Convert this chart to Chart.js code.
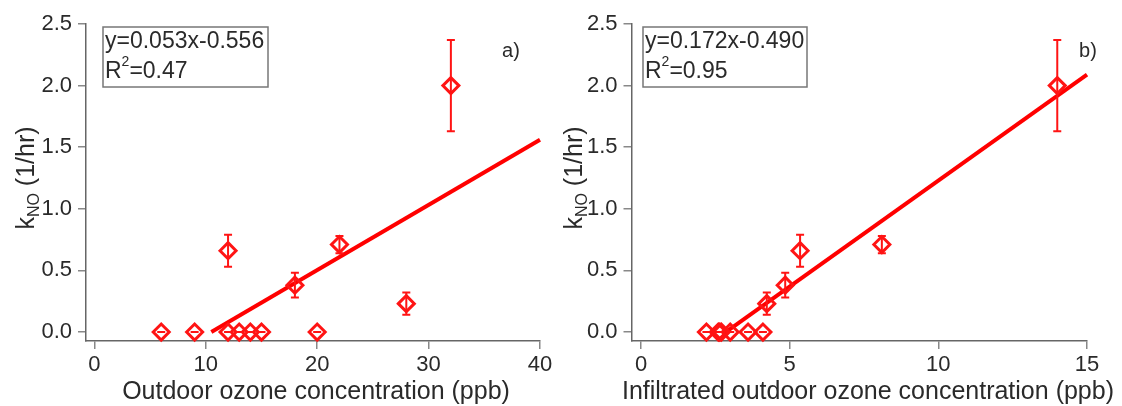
<!DOCTYPE html>
<html>
<head>
<meta charset="utf-8">
<script src="https://cdn.jsdelivr.net/npm/chart.js@4.4.1/dist/chart.umd.min.js"></script>
<style>
  body { margin: 0; background: #fff; width: 1122px; height: 406px; overflow: hidden; position: relative; }
  canvas { position: absolute; top: 0; }
</style>
</head>
<body>
<canvas id="chartA" width="560" height="406" style="left:0"></canvas>
<canvas id="chartB" width="562" height="406" style="left:560px"></canvas>
<script>
// k_NO values (1/hr) and their error bars, shared by both panels
const kNO  = [0, 0, 0, 0, 0, 0, 0, 0.66, 0.38, 0.71, 0.23, 2.0];
const kErr = [0, 0, 0, 0, 0, 0, 0, 0.13, 0.10, 0.07, 0.09, 0.37];

// panel a) outdoor ozone (ppb)
const outdoorX = [6, 9, 12, 13, 14, 15, 20, 12, 18, 22, 28, 32];
// panel b) infiltrated outdoor ozone (ppb)
const infiltratedX = [2.2, 2.6, 2.65, 2.7, 3.0, 3.6, 4.1, 5.35, 4.85, 8.1, 4.23, 14];

// fitted lines, end points
const fitAX = [10.5, 40];
const fitAY = [0, 1.56];
const fitBX = [2.85, 15];
const fitBY = [0, 2.09];

// tick labels
const xTicksA = [0, 10, 20, 30, 40];
const xTicksB = [0, 5, 10, 15];
const yTicks = [0, 0.5, 1.0, 1.5, 2.0, 2.5];

const RED = '#ff1414';
const TEXT = '#2a2a2a';
const FONT = '"Liberation Sans", Arial, Helvetica, sans-serif';

// vertical error bars with caps, drawn through the chart scales
const errorBars = {
  id: 'errorBars',
  afterDatasetsDraw(chart, args, opts) {
    const ctx = chart.ctx, xs = chart.scales.x, ys = chart.scales.y;
    const pts = chart.data.datasets[0].data;
    ctx.save();
    ctx.strokeStyle = RED;
    ctx.lineWidth = 2;
    pts.forEach((p, i) => {
      const e = opts.errors[i];
      const px = xs.getPixelForValue(p.x);
      const top = ys.getPixelForValue(p.y + e);
      const bot = ys.getPixelForValue(p.y - e);
      ctx.beginPath();
      ctx.moveTo(px, top); ctx.lineTo(px, bot);
      ctx.moveTo(px - 4, top); ctx.lineTo(px + 4, top);
      ctx.moveTo(px - 4, bot); ctx.lineTo(px + 4, bot);
      ctx.stroke();
    });
    ctx.restore();
  }
};

// fit box, panel letter, axis titles (y title has a subscript,
// x title of panel b is wider than its axis so chart.js would squeeze it)
const decor = {
  id: 'decor',
  afterDraw(chart, args, opts) {
    const ctx = chart.ctx;
    ctx.save();
    const [bx, by, bw, bh] = opts.box;
    ctx.strokeStyle = '#777';
    ctx.lineWidth = 1.5;
    ctx.strokeRect(bx, by, bw, bh);

    ctx.fillStyle = TEXT;
    ctx.textBaseline = 'alphabetic';
    ctx.textAlign = 'left';
    ctx.font = '23px ' + FONT;
    ctx.fillText(opts.eq, bx + 2, by + 21);
    ctx.fillText('R', bx + 2, by + 51);
    let w = ctx.measureText('R').width;
    ctx.font = '14px ' + FONT;
    ctx.fillText('2', bx + 2 + w, by + 39);
    let w2 = ctx.measureText('2').width;
    ctx.font = '23px ' + FONT;
    ctx.fillText('=' + opts.r2, bx + 2 + w + w2, by + 51);

    ctx.font = '20px ' + FONT;
    ctx.textAlign = 'center';
    ctx.textBaseline = 'middle';
    ctx.fillText(opts.letter, opts.letterPos[0], opts.letterPos[1]);

    // x title
    ctx.textBaseline = 'alphabetic';
    ctx.font = opts.xTitleSize + 'px ' + FONT;
    ctx.fillText(opts.xTitle, opts.xTitlePos[0], opts.xTitlePos[1]);

    // rotated y title: k_NO (1/hr)
    ctx.translate(opts.ytitle[0], opts.ytitle[1]);
    ctx.rotate(-Math.PI / 2);
    ctx.textAlign = 'left';
    ctx.font = '25px ' + FONT;
    const wk = ctx.measureText('k').width;
    const wr = ctx.measureText(' (1/hr)').width;
    ctx.font = '16px ' + FONT;
    const ws = ctx.measureText('NO').width;
    let x0 = -(wk + ws + wr) / 2;
    ctx.font = '25px ' + FONT;
    ctx.fillText('k', x0, 9);
    ctx.font = '16px ' + FONT;
    ctx.fillText('NO', x0 + wk, 14);
    ctx.font = '25px ' + FONT;
    ctx.fillText(' (1/hr)', x0 + wk + ws, 9);
    ctx.restore();
  }
};

function makeChart(id, xs, fitX, fitY, xTicks, xMin, xMax, opt) {
  const points = xs.map((x, i) => ({ x: x, y: kNO[i] }));
  const line = fitX.map((x, i) => ({ x: x, y: fitY[i] }));
  return new Chart(document.getElementById(id), {
    type: 'scatter',
    data: {
      datasets: [
        {
          data: points,
          pointStyle: 'rectRot',
          pointRadius: 8,
          pointBorderWidth: 3,
          pointBorderColor: RED,
          pointBackgroundColor: 'rgba(0,0,0,0)',
          clip: false,
        },
        {
          type: 'line',
          data: line,
          showLine: true,
          borderColor: '#ff0000',
          borderWidth: 4,
          pointRadius: 0,
          clip: false,
        },
      ],
    },
    options: {
      responsive: false,
      animation: false,
      layout: { padding: { left: 0, right: opt.padRight, top: 24, bottom: 0 } },
      plugins: {
        legend: { display: false },
        tooltip: { enabled: false },
        errorBars: { errors: kErr },
        decor: opt.decor,
      },
      scales: {
        x: {
          type: 'linear',
          min: xMin,
          max: xMax,
          afterBuildTicks: (s) => { s.ticks = xTicks.map((v) => ({ value: v })); },
          afterFit: (s) => { s.height = 65; },
          grid: { drawOnChartArea: false, drawTicks: true, tickLength: 8, color: '#888', lineWidth: 1.5 },
          border: { display: true, color: '#666', width: 1.5 },
          ticks: { color: TEXT, font: { family: FONT, size: 22 }, padding: 3, maxRotation: 0 },
        },
        y: {
          type: 'linear',
          min: -0.073,
          max: 2.5,
          afterBuildTicks: (s) => { s.ticks = yTicks.map((v) => ({ value: v })); },
          afterFit: (s) => { s.width = opt.yWidth; },
          grid: { drawOnChartArea: false, drawTicks: true, tickLength: 8, color: '#888', lineWidth: 1.5 },
          border: { display: true, color: '#666', width: 1.5 },
          ticks: { color: TEXT, font: { family: FONT, size: 22 }, padding: 6, callback: (v) => v.toFixed(1) },
        },
      },
    },
    plugins: [errorBars, decor],
  });
}

makeChart('chartA', outdoorX, fitAX, fitAY, xTicksA, -0.75, 40, {
  padRight: 20,
  yWidth: 86,
  decor: {
    box: [103, 27, 165, 60], eq: 'y=0.053x-0.556', r2: '0.47', letter: 'a)', letterPos: [511, 51], ytitle: [25, 178],
    xTitle: 'Outdoor ozone concentration (ppb)', xTitleSize: 25, xTitlePos: [316, 399],
  },
});

makeChart('chartB', infiltratedX, fitBX, fitBY, xTicksB, -0.32, 15, {
  padRight: 35,
  yWidth: 71.5,
  decor: {
    box: [83, 27, 164, 60], eq: 'y=0.172x-0.490', r2: '0.95', letter: 'b)', letterPos: [528, 51], ytitle: [13, 178],
    xTitle: 'Infiltrated outdoor ozone concentration (ppb)', xTitleSize: 25, xTitlePos: [308, 399],
  },
});
</script>
</body>
</html>
